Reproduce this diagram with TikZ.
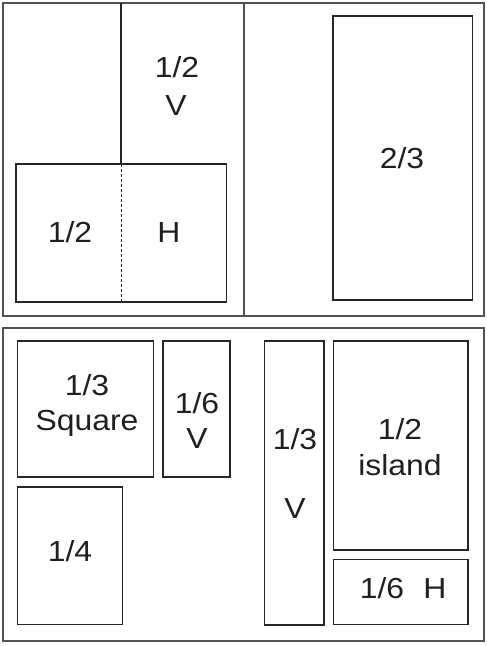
\documentclass[tikz,border=0pt]{standalone}
\usepackage{fontspec}
\setmainfont{Liberation Sans}[FakeStretch=1.1]
\begin{document}
\begin{tikzpicture}[x=1pt,y=-1pt,
  frame/.style={draw=black!68,line width=1.8pt},
  box/.style={draw=black!85,line width=1.2pt},
  lbl/.style={anchor=base,inner sep=0pt,text=black!88,font=\fontsize{29}{34}\selectfont}]
\useasboundingbox (0,0) rectangle (487,646);
% top panel
\draw[frame] (3,3) rectangle (484,316);
\draw[frame] (244,3) -- (244,316);
\coordinate (vtop) at (121,3);
\coordinate (vmid) at (121,164);
\coordinate (vbot) at (121,302);
\draw[box] (vtop) -- (vmid);
\draw[box,line width=1pt,dash pattern=on 3pt off 2pt] (vmid) -- (vbot);
\draw[box] (16,164) rectangle (226.5,302);
\draw[box] (333,16) rectangle (472.5,300);
\node[lbl] (t1) at (177,77) {1/2};
\node[lbl] (t2) at (176,115) {V};
\node[lbl] (t3) at (70,242) {1/2};
\node[lbl] (t4) at (169,242) {H};
\node[lbl] (t5) at (402,168) {2/3};
% bottom panel
\draw[frame] (3,328) rectangle (484,641);
\draw[box] (17.3,341) rectangle (153.7,477);
\draw[box] (163,341) rectangle (230,477);
\draw[box] (17.3,487) rectangle (122.7,624.3);
\draw[box] (264.3,341) rectangle (324,625);
\draw[box] (333.7,341) rectangle (468,550);
\draw[box] (333.7,559.3) rectangle (468,624.3);
\node[lbl] (b1) at (87,395) {1/3};
\node[lbl] (b2) at (87,430) {Square};
\node[lbl] (b3) at (197,413) {1/6};
\node[lbl] (b4) at (197,448) {V};
\node[lbl] (b5) at (70,561) {1/4};
\node[lbl] (b6) at (295,449) {1/3};
\node[lbl] (b7) at (295,518) {V};
\node[lbl] (b8) at (400,439) {1/2};
\node[lbl] (b9) at (400,475) {island};
\node[lbl] (b10) at (382,598) {1/6};
\node[lbl] (b11) at (435,598) {H};
\end{tikzpicture}
\end{document}
